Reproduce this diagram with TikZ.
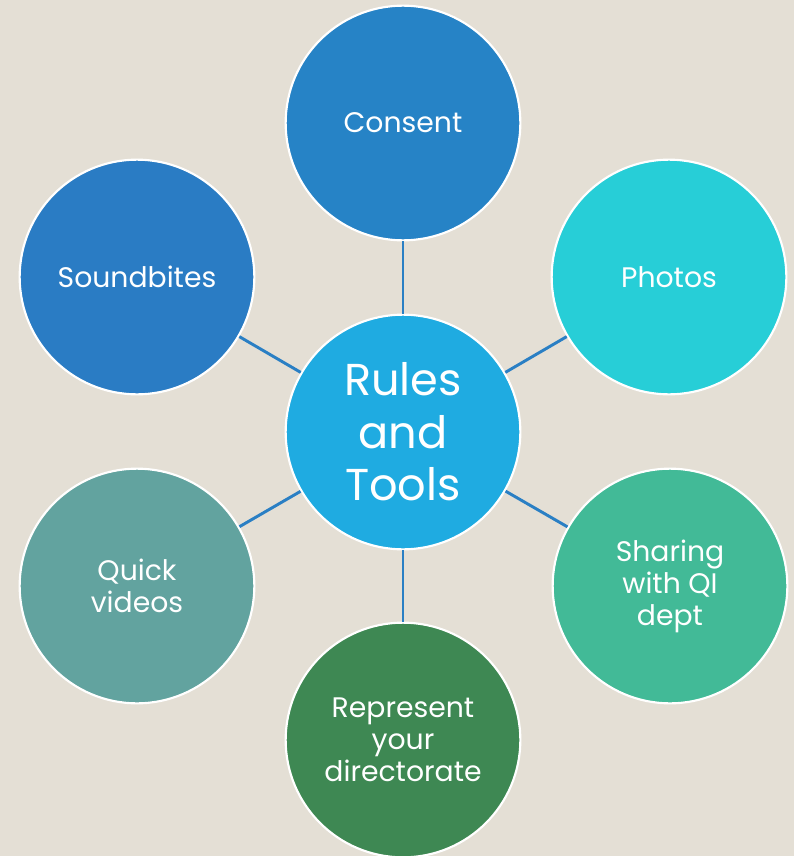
\documentclass[tikz,border=0pt]{standalone}
\usepackage{fontspec}
\setmainfont{Poppins}
\definecolor{bgsand}{HTML}{E4DFD5}
\definecolor{linkblue}{HTML}{2A7FC4}
\definecolor{cConsent}{HTML}{2683C6}
\definecolor{cCentre}{HTML}{1FABE1}
\definecolor{cPhotos}{HTML}{27CED7}
\definecolor{cSharing}{HTML}{42BA97}
\definecolor{cRepresent}{HTML}{3E8853}
\definecolor{cVideos}{HTML}{62A39F}
\definecolor{cSound}{HTML}{2A7CC4}
\begin{document}
\begin{tikzpicture}[x=0.75pt,y=-0.75pt,
  bubble/.style={circle, draw=white, line width=1.6pt, minimum size=176pt,
    inner sep=0pt, text=white, align=center,
    font=\fontsize{21.2}{24}\selectfont},
  hub/.style={bubble, font=\fontsize{33.5}{39.5}\selectfont},
  link/.style={draw=linkblue, line width=2.2pt}]
  \fill[bgsand] (0,0) rectangle (794,856);
  \useasboundingbox (0,0) rectangle (794,856);

  \node[hub, fill=cCentre] (hub) at (403,432) {Rules\\and\\Tools};
  \node[bubble, fill=cConsent]   (consent)   at (403,123) {Consent};
  \node[bubble, fill=cPhotos]    (photos)    at (669,277) {Photos};
  \node[bubble, fill=cSharing]   (sharing)   at (670,586) {Sharing\\with QI\\dept};
  \node[bubble, fill=cRepresent] (represent) at (403,740) {Represent\\your\\directorate};
  \node[bubble, fill=cVideos]    (videos)    at (137,586) {Quick\\videos};
  \node[bubble, fill=cSound]     (sound)     at (137,277) {Soundbites};

  \foreach \n in {consent,photos,sharing,represent,videos,sound}
    \draw[link] (hub) -- (\n);
\end{tikzpicture}
\end{document}
